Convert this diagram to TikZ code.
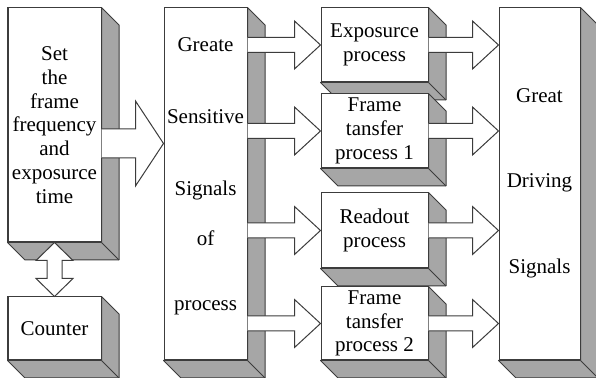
\documentclass[tikz,border=0pt]{standalone}
\usepackage{fontspec}
\setmainfont{Liberation Serif}
\usetikzlibrary{calc,backgrounds}

\definecolor{facegray}{RGB}{166,166,166}
\definecolor{edgegray}{RGB}{60,60,60}

\tikzset{
	front/.style={draw=edgegray,fill=white,line width=0.5pt,inner sep=0pt,align=center},
	face/.style={draw=edgegray,fill=facegray,line width=0.5pt,line join=round},
	blockarrow/.style={draw=edgegray,fill=white,line width=0.5pt,line join=miter},
}

% block arrow: start, end (same height), shaft half width, head half width, head length
\newcommand{\rightblock}[5]{%
	\filldraw[blockarrow] let \p1=(#1), \p2=(#2) in
		(\x1,{\y1+#3}) -- ({\x2-#5},{\y1+#3}) -- ({\x2-#5},{\y1+#4}) -- (\x2,\y1)
		-- ({\x2-#5},{\y1-#4}) -- ({\x2-#5},{\y1-#3}) -- (\x1,{\y1-#3});
}

\begin{document}
\begin{tikzpicture}[x=0.5pt,y=-0.5pt,font=\fontsize{10.5}{11.9}\selectfont]
	\useasboundingbox (0,0) rectangle (596,378);
	% front faces of the boxes
	\node[front,minimum width=46.5pt,minimum height=117pt] (set) at (54.5,125)
		{Set\\the\\frame\\frequency\\and\\exposurce\\time};
	\node[front,minimum width=46.5pt,minimum height=31.5pt] (counter) at (54.5,328.5) {Counter};
	\node[front,minimum width=41.5pt,minimum height=176pt] (sens) at (205.5,184) {};
	\node[front,minimum width=53.5pt,minimum height=37pt] (expo) at (374.5,45) {Exposurce\\process};
	\node[front,minimum width=53.5pt,minimum height=37pt] (ft1) at (374.5,131) {Frame\\tansfer\\process 1};
	\node[front,minimum width=53.5pt,minimum height=37.5pt] (read) at (374.5,230.5) {Readout\\process};
	\node[front,minimum width=53.5pt,minimum height=36.5pt] (ft2) at (374.5,323.5) {Frame\\tansfer\\process 2};
	\node[front,minimum width=40.5pt,minimum height=176pt] (drive) at (539.5,184) {};
	% words spread over the tall boxes
	\foreach \t/\y [count=\i] in {Greate/45, Sensitive/117, Signals/190, of/238, process/308} {
		\node (senstext\i) at (sens.center |- 0,\y) {\t};
	}
	\foreach \t/\y [count=\i] in {Great/96, Driving/183, Signals/268} {
		\node (drivetext\i) at (drive.center |- 0,\y) {\t};
	}
	% shaded sides - behind the fronts
	\begin{scope}[on background layer]
		\foreach \b in {set,counter,sens,expo,ft1,read,ft2,drive} {
			\filldraw[face] (\b.north east) -- ++(17.5,17.5) -- ($(\b.south east)+(17.5,17.5)$)
				-- ($(\b.south west)+(17.5,17.5)$) -- (\b.south west) -- (\b.south east) -- cycle;
			\draw[face] (\b.south east) -- ++(17.5,17.5);
		}
	\end{scope}
	% the big arrow into the signal box
	\coordinate (bigmid) at (0,143.5);
	\rightblock{set.east |- bigmid}{sens.west |- bigmid}{7.25pt}{21.25pt}{14pt}
	% arrows to and from the processes
	\foreach \b in {expo,ft1,read,ft2} {
		\rightblock{sens.east |- \b.west}{\b.west}{3.75pt}{12pt}{13pt}
		\rightblock{\b.east}{drive.west |- \b.east}{3.75pt}{12pt}{13pt}
	}
	% the double arrow to the counter
	\filldraw[blockarrow] let \p1=(set.south), \p2=(counter.north) in
		(\x1,\y1) -- ({\x1+9.25pt},{\y1-9pt}) -- ({\x1+3.75pt},{\y1-9pt}) -- ({\x1+3.75pt},{\y2+9pt})
		-- ({\x1+9.25pt},{\y2+9pt}) -- (\x2,\y2) -- ({\x1-9.25pt},{\y2+9pt}) -- ({\x1-3.75pt},{\y2+9pt})
		-- ({\x1-3.75pt},{\y1-9pt}) -- ({\x1-9.25pt},{\y1-9pt}) -- cycle;
\end{tikzpicture}
\end{document}
